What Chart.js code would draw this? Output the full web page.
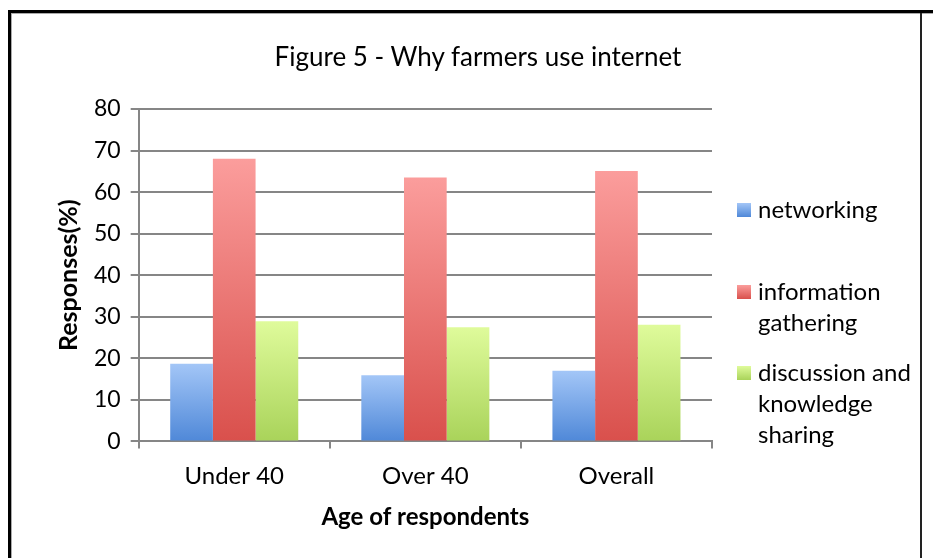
<!DOCTYPE html>
<html>
<head>
<meta charset="utf-8">
<script src="https://cdn.jsdelivr.net/npm/chart.js@4.4.1/dist/chart.umd.min.js"></script>
<style>
  html, body { margin: 0; padding: 0; background: #fff; overflow: hidden; }
  body { width: 933px; height: 558px; position: relative; font-family: Lato, "Open Sans", sans-serif; }
  #frame { position: absolute; left: 8px; top: 10px; width: 1000px; height: 600px;
           border-left: 3px solid #000; border-top: 3px solid #000; }
  #frame2 { position: absolute; left: 11px; top: 13px; width: 1000px; height: 600px;
            border-left: 1px solid #aaa; border-top: 1px solid #aaa; }
  #rline { position: absolute; left: 920px; top: 13px; width: 2px; height: 560px; background: #222; }
  #wrap { position: absolute; left: 0; top: 0; width: 933px; height: 558px; }
  #title { position: absolute; left: 0; width: 956px; top: 40px; text-align: center;
           font-size: 26px; color: #000; }
  #legend { position: absolute; left: 737px; top: 0; font-size: 24px; color: #000; }
  .item { position: absolute; left: 0; width: 195px; }
  .item span.sw { position: absolute; left: 0; width: 14px; height: 14px; }
  .item div { margin-left: 21px; line-height: 31px; white-space: nowrap; }
</style>
</head>
<body>
<div id="frame"></div>
<div id="frame2"></div>
<div id="rline"></div>
<div id="wrap"><canvas id="chart"></canvas></div>
<div id="title">Figure 5 - Why farmers use internet</div>
<div id="legend"></div>
<script>
const categories = ['Under 40', 'Over 40', 'Overall'];
const seriesNames = ['networking', 'information gathering', 'discussion and knowledge sharing'];
const legendLines = [['networking'], ['information', 'gathering'], ['discussion and', 'knowledge', 'sharing']];
const networking = [18.7, 15.9, 17.0];
const infoGathering = [68.0, 63.5, 65.1];
const discussion = [28.9, 27.5, 28.1];
const yTicks = [0, 10, 20, 30, 40, 50, 60, 70, 80];

// top colour, bottom colour
const palette = [
  ['#a3c6f7', '#4f88d8'],
  ['#fb9d9c', '#d9504c'],
  ['#dffb9b', '#a9d35a']
];

function barGradient(idx) {
  return (ctx) => {
    const chart = ctx.chart;
    const y = chart.scales.y;
    if (!y || ctx.type !== 'data') return palette[idx][1];
    const top = y.getPixelForValue(ctx.raw);
    const bottom = y.getPixelForValue(0);
    if (!isFinite(top) || !isFinite(bottom) || top === bottom) return palette[idx][1];
    const g = chart.ctx.createLinearGradient(0, top, 0, bottom);
    g.addColorStop(0, palette[idx][0]);
    g.addColorStop(1, palette[idx][1]);
    return g;
  };
}

const values = [networking, infoGathering, discussion];

new Chart(document.getElementById('chart'), {
  type: 'bar',
  data: {
    labels: categories,
    datasets: values.map((d, i) => ({
      label: seriesNames[i],
      data: d,
      backgroundColor: barGradient(i),
      borderWidth: 0,
      categoryPercentage: 0.67,
      barPercentage: 1.0
    }))
  },
  options: {
    responsive: true,
    maintainAspectRatio: false,
    animation: false,
    layout: { padding: { left: 50, right: 221, top: 109, bottom: 22 } },
    plugins: {
      legend: { display: false },
      title: { display: false },
      tooltip: { enabled: false }
    },
    scales: {
      x: {
        grid: { display: true, drawOnChartArea: false, offset: true, color: '#868686', lineWidth: 2, tickLength: 7 },
        border: { display: true, color: '#868686', width: 2 },
        ticks: { color: '#000', font: { family: 'Lato', size: 24 }, padding: 13 },
        title: { display: true, text: 'Age of respondents', color: '#000',
                 font: { family: 'Lato', size: 24, weight: 'bold' }, padding: { top: 0 } }
      },
      y: {
        min: 0, max: 80,
        afterBuildTicks: (axis) => { axis.ticks = yTicks.map(v => ({ value: v })); },
        grid: { color: '#868686', lineWidth: 2, tickLength: 8 },
        border: { display: true, color: '#868686', width: 2 },
        ticks: { color: '#000', font: { family: 'Lato', size: 23 }, padding: 10 },
        title: { display: true, text: 'Responses(%)', color: '#000',
                 font: { family: 'Lato', size: 25, weight: 'bold' }, padding: { bottom: 0 } }
      }
    }
  }
});

// legend built from the series names and colours
const legend = document.getElementById('legend');
const legendTops = [193, 275, 356];
legendLines.forEach((lines, i) => {
  const item = document.createElement('div');
  item.className = 'item';
  item.style.top = legendTops[i] + 'px';
  const sw = document.createElement('span');
  sw.className = 'sw';
  sw.style.top = '10px';
  sw.style.background = 'linear-gradient(' + palette[i][0] + ',' + palette[i][1] + ')';
  item.appendChild(sw);
  const txt = document.createElement('div');
  txt.innerHTML = lines.join('<br>');
  item.appendChild(txt);
  legend.appendChild(item);
});
</script>
</body>
</html>
